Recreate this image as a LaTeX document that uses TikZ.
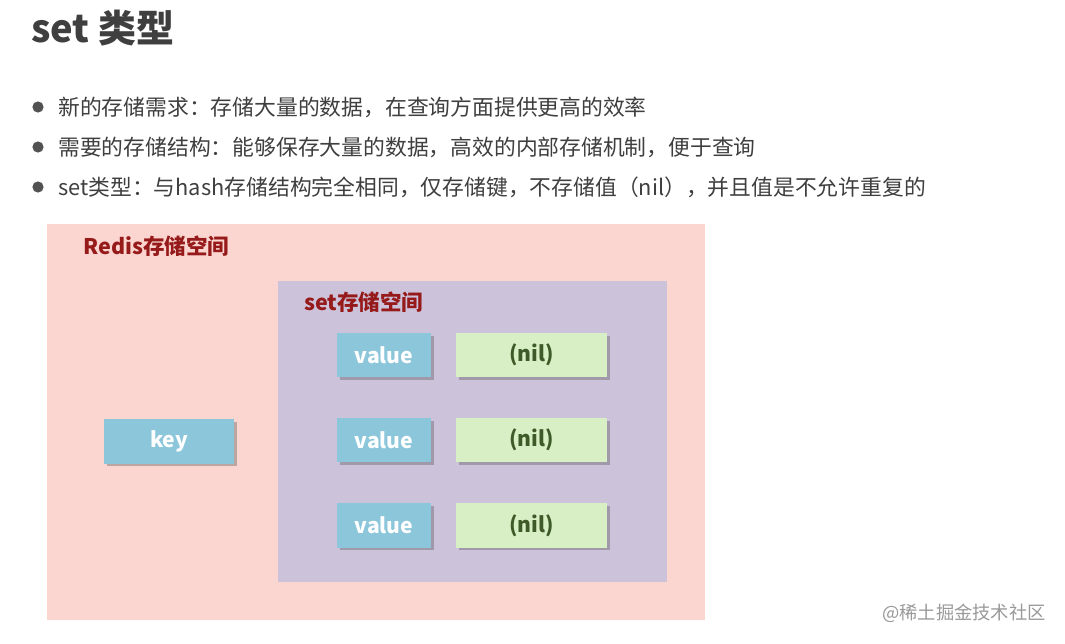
\documentclass[tikz,border=0pt]{standalone}
\usepackage{fontspec}
\setmainfont{Noto Sans CJK SC}
\usepackage{tikz}
\usetikzlibrary{positioning, shadows}
\definecolor{slidegray}{HTML}{3F3F3F}
\definecolor{redispink}{HTML}{FBD6D1}
\definecolor{setlilac}{HTML}{CCC3DB}
\definecolor{keyblue}{HTML}{8CC6DA}
\definecolor{nilgreen}{HTML}{D8EEC4}
\definecolor{labelred}{HTML}{961A1A}
\definecolor{nildark}{HTML}{3E5A28}

\begin{document}
\begin{tikzpicture}[
    x=0.025cm, y=-0.025cm,
    title_text/.style={anchor=west, inner sep=0pt, font=\fontsize{27}{32}\selectfont\bfseries, text=slidegray},
    bullet_dot/.style={circle, fill=slidegray!90, inner sep=0pt, minimum size=0.28cm},
    bullet_text/.style={anchor=west, inner sep=0pt, font=\fontsize{15.5}{18}\selectfont, text=slidegray},
    area_label/.style={anchor=west, inner sep=0pt, font=\fontsize{15.3}{18}\selectfont\bfseries, text=labelred},
    cell_shadow/.style={drop shadow={shadow xshift=2pt, shadow yshift=-2pt, opacity=0.35, fill=black!70}},
    key_cell/.style={rectangle, fill=keyblue, cell_shadow, minimum height=1.1cm, inner sep=0pt, text=white, font=\fontsize{15}{18}\selectfont\bfseries},
    nil_cell/.style={rectangle, fill=nilgreen, cell_shadow, minimum width=3.775cm, minimum height=1.1cm, inner sep=0pt, text=nildark, font=\fontsize{15}{18}\selectfont\bfseries}
]
\useasboundingbox[fill=white] (0,0) rectangle (1065,644);

% heading and bullet lines
\node[title_text] (title) at (31,28) {set 类型};

\node[bullet_dot] (b1) at (38,107) {};
\node[bullet_dot] (b2) at (38,147) {};
\node[bullet_dot] (b3) at (38,187) {};
\node[bullet_text] (t1) at (58,107) {新的存储需求：存储大量的数据，在查询方面提供更高的效率};
\node[bullet_text] (t2) at (58,147) {需要的存储结构：能够保存大量的数据，高效的内部存储机制，便于查询};
\node[bullet_text] (t3) at (58,187) {set类型：与hash存储结构完全相同，仅存储键，不存储值（nil），并且值是不允许重复的};

% storage areas
\node[rectangle, fill=redispink, minimum width=16.45cm, minimum height=9.9cm, inner sep=0pt] (redis) at (376,422) {};
\node[area_label] (redislabel) at (83,246) {Redis存储空间};
\node[rectangle, fill=setlilac, minimum width=9.725cm, minimum height=7.525cm, inner sep=0pt] (setarea) at (472.5,431.5) {};
\node[area_label] (setlabel) at (304,302) {set存储空间};

% key and members
\node[key_cell, minimum width=3.25cm] (key) at (169,441.5) {key};
\node[key_cell, minimum width=2.35cm] (v1) at (384,355) {value};
\node[key_cell, minimum width=2.35cm] (v2) at (384,440) {value};
\node[key_cell, minimum width=2.35cm] (v3) at (384,525.5) {value};
\node[nil_cell] (n1) at (531.5,355) {(nil)};
\node[nil_cell] (n2) at (531.5,440) {(nil)};
\node[nil_cell] (n3) at (531.5,525.5) {(nil)};

\node[anchor=east, inner sep=0pt, font=\fontsize{13}{15}\selectfont, text=black!40] (mark) at (1046,613) {@稀土掘金技术社区};

\end{tikzpicture}
\end{document}
